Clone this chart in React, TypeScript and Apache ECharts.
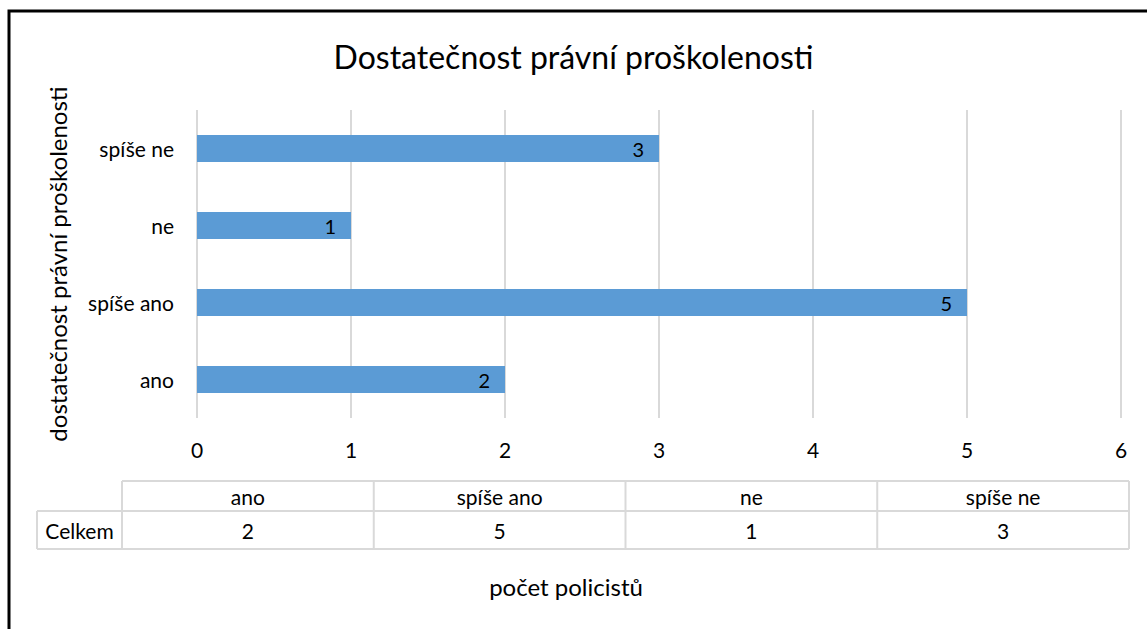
import React, { useEffect, useRef } from "react";
import * as echarts from "echarts";

const categories = ["ano", "spíše ano", "ne", "spíše ne"];
const values = [2, 5, 1, 3];
const rowLabel = "Celkem";
const titleText = "Dostatečnost právní proškolenosti";
const yAxisName = "dostatečnost právní proškolenosti";
const xAxisName = "počet policistů";

const FONT = "Lato, 'Open Sans', sans-serif";

export default function App() {
  const ref = useRef<HTMLDivElement>(null);
  useEffect(() => {
    if (!ref.current) return;
    const chart = echarts.init(ref.current, null, { renderer: "svg" });

    const tableLeft = 122;
    const labelLeft = 37;
    const tableRight = 1129;
    const rowTop = 481;
    const rowMid = 511;
    const rowBottom = 549;
    const colW = (tableRight - tableLeft) / categories.length;
    const lineStyle = { stroke: "#d9d9d9", lineWidth: 2 };
    const textStyle = { fill: "#000", font: `21px ${FONT}`, align: "center", verticalAlign: "middle" };

    const tableEls: any[] = [];
    tableEls.push({ type: "line", shape: { x1: tableLeft, y1: rowTop, x2: tableRight, y2: rowTop }, style: lineStyle });
    tableEls.push({ type: "line", shape: { x1: labelLeft, y1: rowMid, x2: tableRight, y2: rowMid }, style: lineStyle });
    tableEls.push({ type: "line", shape: { x1: labelLeft, y1: rowBottom, x2: tableRight, y2: rowBottom }, style: lineStyle });
    tableEls.push({ type: "line", shape: { x1: labelLeft, y1: rowMid, x2: labelLeft, y2: rowBottom }, style: lineStyle });
    for (let i = 0; i <= categories.length; i++) {
      const x = tableLeft + i * colW;
      tableEls.push({ type: "line", shape: { x1: x, y1: rowTop, x2: x, y2: rowBottom }, style: lineStyle });
    }
    categories.forEach((c, i) => {
      const cx = tableLeft + (i + 0.5) * colW;
      tableEls.push({ type: "text", x: cx, y: (rowTop + rowMid) / 2, style: { ...textStyle, text: c } });
      tableEls.push({ type: "text", x: cx, y: (rowMid + rowBottom) / 2, style: { ...textStyle, text: String(values[i]) } });
    });
    tableEls.push({ type: "text", x: (labelLeft + tableLeft) / 2, y: (rowMid + rowBottom) / 2, style: { ...textStyle, text: rowLabel } });

    chart.setOption({
      animation: false,
      backgroundColor: "#fff",
      title: {
        text: titleText,
        left: "center",
        top: 35,
        textStyle: { fontFamily: FONT, fontSize: 32, fontWeight: "normal", color: "#000" },
      },
      grid: { left: 197, right: 26, top: 110, bottom: 211, containLabel: false },
      xAxis: {
        type: "value",
        min: 0,
        max: 6,
        interval: 1,
        axisLine: { show: false },
        axisTick: { show: false },
        axisLabel: { fontFamily: FONT, fontSize: 21, color: "#000", margin: 21 },
        splitLine: { lineStyle: { color: "#d9d9d9", width: 2 } },
      },
      yAxis: {
        type: "category",
        data: categories,
        axisLine: { show: false },
        axisTick: { show: false },
        axisLabel: { fontFamily: FONT, fontSize: 21, color: "#000", margin: 23 },
        name: yAxisName,
        nameLocation: "middle",
        nameGap: 128,
        nameTextStyle: { fontFamily: FONT, fontSize: 24, color: "#000" },
      },
      series: [
        {
          type: "bar",
          data: values,
          barWidth: 27,
          itemStyle: { color: "#5B9BD5" },
          label: {
            show: true,
            position: "insideRight",
            distance: 15,
            color: "#000",
            fontFamily: FONT,
            fontSize: 20,
          },
        },
      ],
      graphic: [
        ...tableEls,
        {
          type: "text",
          x: 566,
          y: 586,
          style: { text: xAxisName, fill: "#000", font: `24px ${FONT}`, align: "center", verticalAlign: "middle" },
        },
        {
          type: "rect",
          shape: { x: 9, y: 11, width: 1200, height: 700 },
          style: { fill: "none", stroke: "#000", lineWidth: 3 },
        },
      ],
    });
    return () => chart.dispose();
  }, []);
  return <div ref={ref} style={{ position: "absolute", left: 0, top: 0, width: 1147, height: 629 }} />;
}
